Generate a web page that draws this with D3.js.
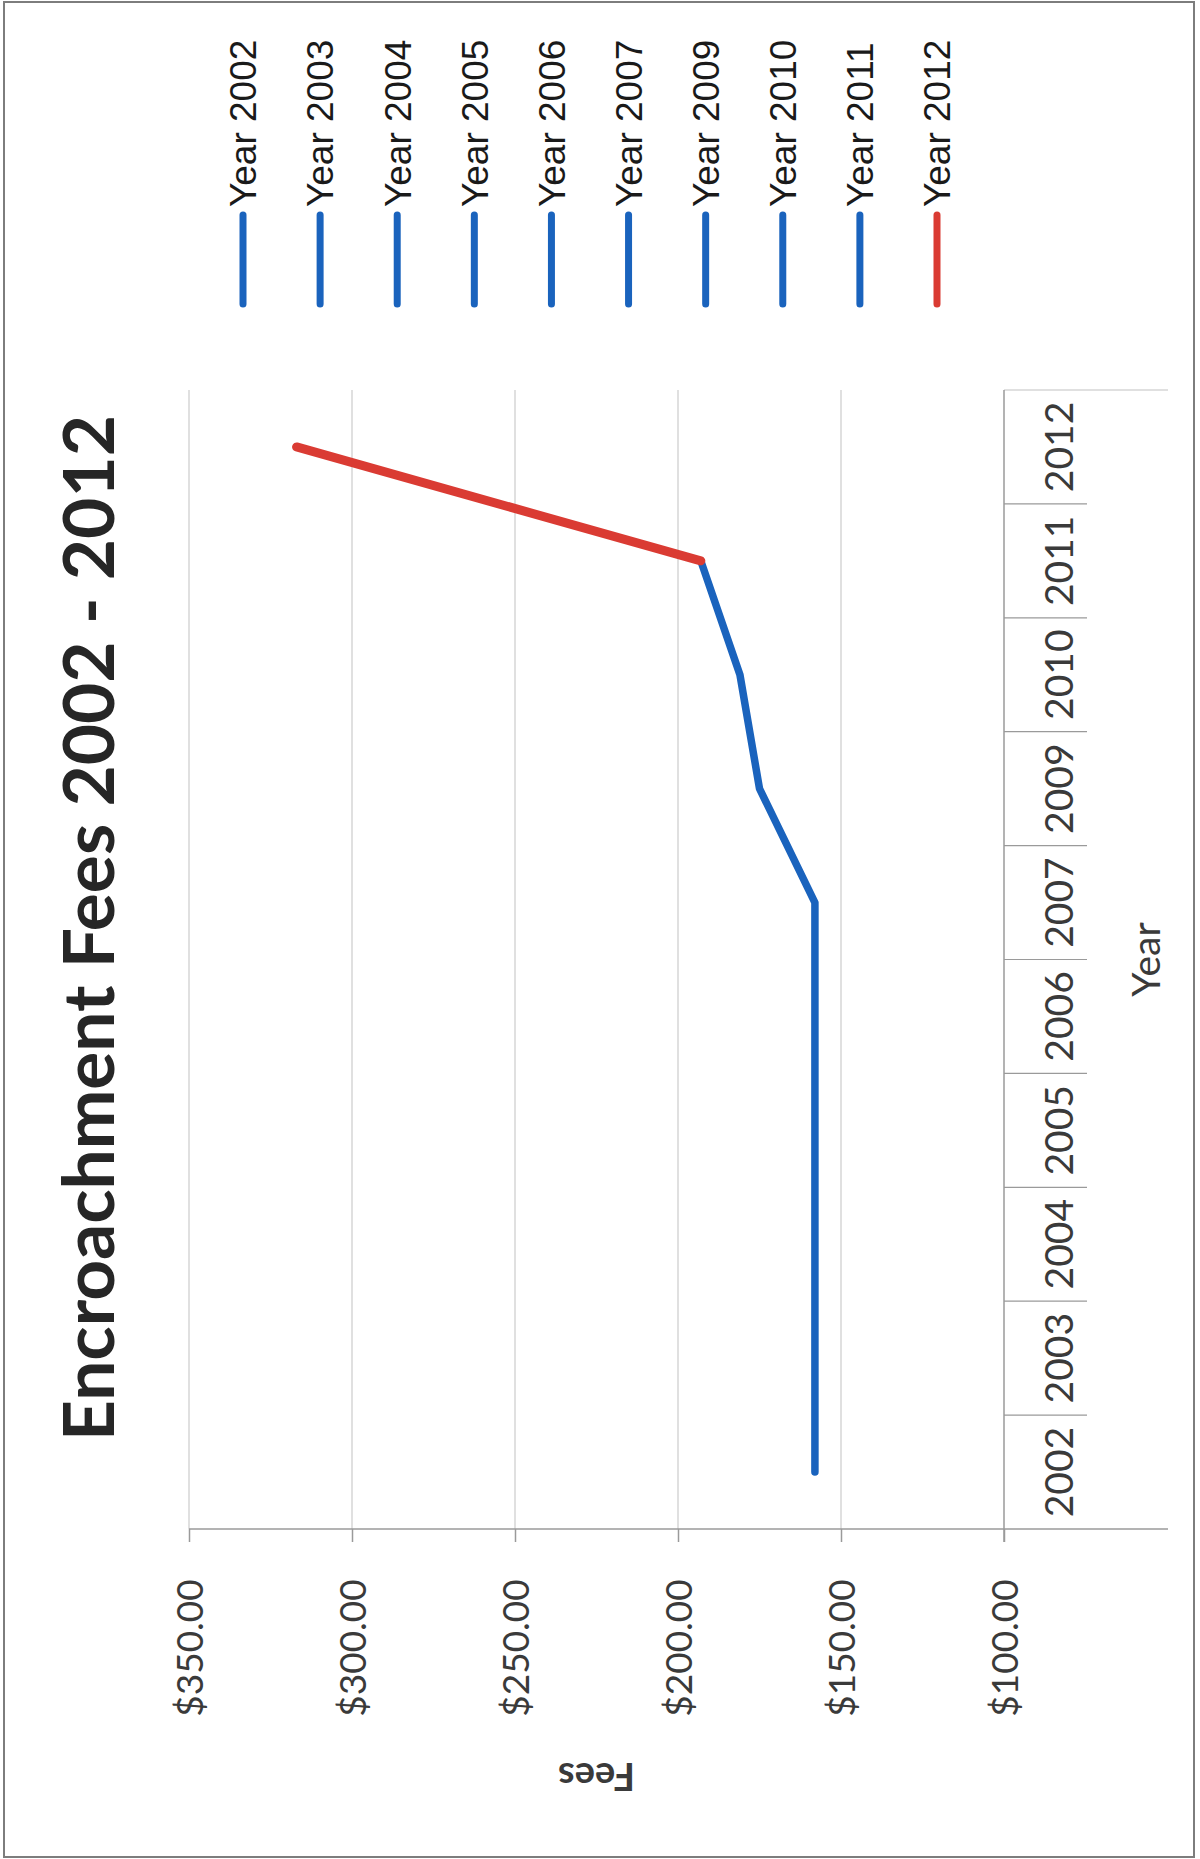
<!DOCTYPE html>
<html>
<head>
<meta charset="utf-8">
<script src="https://cdn.jsdelivr.net/npm/d3@7"></script>
<style>
  html, body { margin: 0; padding: 0; background: #fff; }
  svg { display: block; }
</style>
</head>
<body>
<div id="chart"></div>
<script>
const years = ["2002", "2003", "2004", "2005", "2006", "2007", "2009", "2010", "2011", "2012"];
const fees = [158, 158, 158, 158, 158, 158, 175, 181, 193, 317];
const feeTicks = [100, 150, 200, 250, 300, 350];
const seriesNames = ["Year 2002", "Year 2003", "Year 2004", "Year 2005", "Year 2006",
                     "Year 2007", "Year 2009", "Year 2010", "Year 2011", "Year 2012"];

const W = 1200, H = 1859;
const blue = "#1a63bd", red = "#da3b33";
const gridCol = "#d6d6d6", axisCol = "#9a9a9a", textCol = "#3a3a3a";
const font = "Lato, 'Open Sans', sans-serif";

const svg = d3.select("#chart").append("svg")
  .attr("width", W).attr("height", H);

svg.append("rect").attr("width", W).attr("height", H).attr("fill", "#fff");
// cadre
svg.append("rect")
  .attr("x", 4).attr("y", 2).attr("width", 1190).attr("height", 1855)
  .attr("fill", "none").attr("stroke", "#7d7d7d").attr("stroke-width", 2);

// le graphique est tourné de -90° : valeurs à l'horizontale, années à la verticale
const x = d3.scaleLinear().domain([100, 350]).range([1004, 189]);
const y = d3.scaleBand().domain(years).range([1529, 390]);
const cy = d => y(d) + y.bandwidth() / 2;
const yTop = 390, yBase = 1529;

// grille verticale
svg.append("g").selectAll("line")
  .data(feeTicks.filter(d => d !== 100))
  .enter().append("line")
  .attr("x1", d => x(d)).attr("x2", d => x(d))
  .attr("y1", yTop).attr("y2", yBase)
  .attr("stroke", gridCol).attr("stroke-width", 1.5);

// axe des valeurs (bas)
const xAxis = svg.append("g")
  .attr("transform", `translate(0,${yBase})`)
  .call(d3.axisBottom(x).tickValues(feeTicks).tickSize(13).tickSizeOuter(0)
    .tickFormat(d => "$" + d.toFixed(2)));
xAxis.select(".domain").remove();
xAxis.selectAll(".tick line").attr("stroke", axisCol).attr("stroke-width", 1.5);
xAxis.selectAll(".tick text")
  .attr("transform", "translate(0,119) rotate(-90)")
  .attr("x", 0).attr("y", 0).attr("dy", "0.36em")
  .attr("text-anchor", "middle")
  .attr("fill", textCol)
  .attr("font-size", "37px")
  .attr("font-family", font);

svg.append("line")
  .attr("x1", x(350)).attr("x2", 1168).attr("y1", yBase).attr("y2", yBase)
  .attr("stroke", axisCol).attr("stroke-width", 1.5);
svg.append("line")
  .attr("x1", x(100)).attr("x2", 1168).attr("y1", yTop).attr("y2", yTop)
  .attr("stroke", gridCol).attr("stroke-width", 1.5);

// axe des catégories
svg.append("line")
  .attr("x1", x(100)).attr("x2", x(100)).attr("y1", yTop).attr("y2", yBase + 13)
  .attr("stroke", axisCol).attr("stroke-width", 1.5);

svg.append("g").selectAll("line")
  .data(years.slice(0, -1))
  .enter().append("line")
  .attr("x1", x(100)).attr("x2", 1087)
  .attr("y1", d => y(d)).attr("y2", d => y(d))
  .attr("stroke", axisCol).attr("stroke-width", 1.2);

svg.append("g").selectAll("text")
  .data(years)
  .enter().append("text")
  .attr("transform", d => `translate(1059,${cy(d)}) rotate(-90)`)
  .attr("dy", "0.36em")
  .attr("text-anchor", "middle")
  .attr("fill", textCol)
  .attr("font-size", "39px")
  .attr("font-family", font)
  .text(d => d);

// titres d'axes
svg.append("text")
  .attr("transform", `translate(${(x(100) + x(350)) / 2},1763) rotate(180)`)
  .attr("text-anchor", "middle")
  .attr("fill", textCol)
  .attr("font-size", "38px")
  .attr("font-weight", "700")
  .attr("font-family", font)
  .text("Fees");

svg.append("text")
  .attr("transform", `translate(1146,${(yTop + yBase) / 2}) rotate(-90)`)
  .attr("dy", "0.36em")
  .attr("text-anchor", "middle")
  .attr("fill", textCol)
  .attr("font-size", "39px")
  .attr("font-family", font)
  .text("Year");

// titre
svg.append("text")
  .attr("transform", "translate(88,928) rotate(-90)")
  .attr("dy", "0.36em")
  .attr("text-anchor", "middle")
  .attr("fill", "#262626")
  .attr("font-size", "71px")
  .attr("font-weight", "700")
  .attr("font-family", font)
  .attr("textLength", 1026)
  .attr("lengthAdjust", "spacingAndGlyphs")
  .text("Encroachment Fees 2002 - 2012");

// courbes
const pts = years.map((d, i) => ({ year: d, fee: fees[i] }));
const line = d3.line().x(d => x(d.fee)).y(d => cy(d.year));

svg.append("path")
  .datum(pts.slice(0, 9))
  .attr("d", line)
  .attr("fill", "none").attr("stroke", blue)
  .attr("stroke-width", 7.5).attr("stroke-linejoin", "round").attr("stroke-linecap", "round");

svg.append("path")
  .datum(pts.slice(8))
  .attr("d", line)
  .attr("fill", "none").attr("stroke", red)
  .attr("stroke-width", 9).attr("stroke-linecap", "round");

// légende
const lx = d3.scalePoint().domain(seriesNames).range([243, 937]);
const leg = svg.append("g").selectAll("g")
  .data(seriesNames)
  .enter().append("g")
  .attr("transform", d => `translate(${lx(d)},0)`);

leg.append("line")
  .attr("x1", 0).attr("x2", 0).attr("y1", 215).attr("y2", 304)
  .attr("stroke", (d, i) => i === seriesNames.length - 1 ? red : blue)
  .attr("stroke-width", 7).attr("stroke-linecap", "round");

leg.append("text")
  .attr("transform", "translate(0,207) rotate(-90)")
  .attr("dy", "0.36em")
  .attr("fill", "#1a1a1a")
  .attr("font-size", "37px")
  .attr("font-family", "'Liberation Sans', Arial, sans-serif")
  .text(d => d);
</script>
</body>
</html>
